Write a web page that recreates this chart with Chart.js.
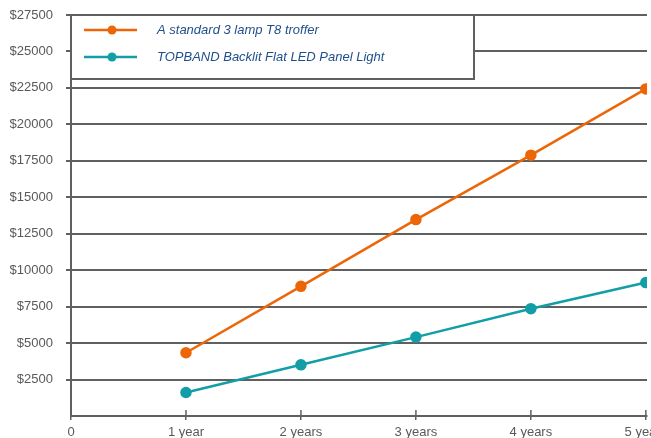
<!DOCTYPE html>
<html>
<head>
<meta charset="utf-8">
<script src="https://cdn.jsdelivr.net/npm/chart.js@4.4.0/dist/chart.umd.min.js"></script>
<style>
  html, body { margin: 0; padding: 0; background: #fff; overflow: hidden; }
  #wrap { width: 651px; height: 439px; position: relative; }
</style>
</head>
<body>
<div id="wrap"><canvas id="chart1"></canvas></div>
<script>
var xLabels = ['0', '1 year', '2 years', '3 years', '4 years', '5 years'];
var years = [1, 2, 3, 4, 5];
var t8Costs = [4340, 8890, 13470, 17890, 22430];
var ledCosts = [1610, 3510, 5410, 7360, 9150];
var seriesNames = ['A standard 3 lamp T8 troffer', 'TOPBAND Backlit Flat LED Panel Light'];

var gridColor = '#606060';
var font = 'Liberation Sans, Arial, sans-serif';

function toPoints(values) {
    return values.map(function (v, i) { return { x: years[i], y: v }; });
}

// legend box drawn inside the plot, top-left, like the original
var boxLegend = {
    id: 'boxLegend',
    afterDraw: function (chart) {
        var c = chart.ctx, a = chart.chartArea;
        var left = a.left, top = a.top, right = 474, bottom = 79;
        c.save();
        c.fillStyle = '#fff';
        c.fillRect(left, top, right - left, bottom - top);
        c.strokeStyle = gridColor;
        c.lineWidth = 2;
        c.strokeRect(left, top, right - left, bottom - top);
        chart.data.datasets.forEach(function (ds, i) {
            var y = top + 15 + i * 27;
            c.strokeStyle = ds.borderColor;
            c.lineWidth = 2.5;
            c.beginPath();
            c.moveTo(84, y);
            c.lineTo(137, y);
            c.stroke();
            c.fillStyle = ds.borderColor;
            c.beginPath();
            c.arc(112, y, 4.5, 0, Math.PI * 2);
            c.fill();
            c.fillStyle = '#1f4f8a';
            c.font = 'italic 13px ' + font;
            c.textBaseline = 'middle';
            c.fillText(ds.label, 157, y);
        });
        c.restore();
    }
};

// small tick marks above the x axis
var innerTicks = {
    id: 'innerTicks',
    afterDraw: function (chart) {
        var c = chart.ctx, xs = chart.scales.x, a = chart.chartArea;
        c.save();
        c.strokeStyle = gridColor;
        c.lineWidth = 1.5;
        years.forEach(function (v) {
            var px = xs.getPixelForValue(v);
            c.beginPath();
            c.moveTo(px, a.bottom - 6);
            c.lineTo(px, a.bottom);
            c.stroke();
        });
        c.restore();
    }
};

var ctx = document.getElementById('chart1').getContext('2d');
var chart = new Chart(ctx, {
    type: 'line',
    data: {
        datasets: [{
            label: seriesNames[0],
            data: toPoints(t8Costs),
            borderColor: '#ec6608',
            backgroundColor: '#ec6608',
            borderWidth: 2.5,
            pointRadius: 4.5,
            pointHoverRadius: 4.5,
            tension: 0
        }, {
            label: seriesNames[1],
            data: toPoints(ledCosts),
            borderColor: '#129ea6',
            backgroundColor: '#129ea6',
            borderWidth: 2.5,
            pointRadius: 4.5,
            pointHoverRadius: 4.5,
            tension: 0
        }]
    },
    options: {
        responsive: true,
        maintainAspectRatio: false,
        animation: false,
        layout: { autoPadding: false, padding: { top: 15, left: 10, right: 4, bottom: 0 } },
        plugins: {
            legend: { display: false },
            tooltip: { enabled: false }
        },
        scales: {
            x: {
                type: 'linear',
                min: 0,
                max: 5.01,
                afterBuildTicks: function (s) {
                    s.ticks = xLabels.map(function (l, i) { return { value: i }; });
                },
                afterFit: function (s) { s.paddingRight = 0; s.paddingLeft = 0; s.height = 23; },
                grid: {
                    drawOnChartArea: false,
                    color: gridColor,
                    lineWidth: 1.5,
                    tickLength: 4
                },
                border: { color: gridColor, width: 2 },
                ticks: {
                    padding: 5,
                    maxRotation: 0,
                    autoSkip: false,
                    color: '#595959',
                    font: { family: font, size: 13 },
                    callback: function (v) { return xLabels[v]; }
                }
            },
            y: {
                min: 0,
                max: 27500,
                afterFit: function (s) { s.width = 61; s.paddingTop = 0; s.paddingBottom = 0; },
                grid: {
                    color: gridColor,
                    tickColor: function (c) { return c.tick && c.tick.value === 0 ? 'rgba(0,0,0,0)' : gridColor; },
                    lineWidth: 2,
                    tickLength: 5
                },
                border: { color: gridColor, width: 2 },
                ticks: {
                    stepSize: 2500,
                    padding: 13,
                    color: '#595959',
                    font: { family: font, size: 13 },
                    callback: function (v) { return v === 0 ? '' : '$' + v; }
                }
            }
        }
    },
    plugins: [boxLegend, innerTicks]
});
</script>
</body>
</html>
